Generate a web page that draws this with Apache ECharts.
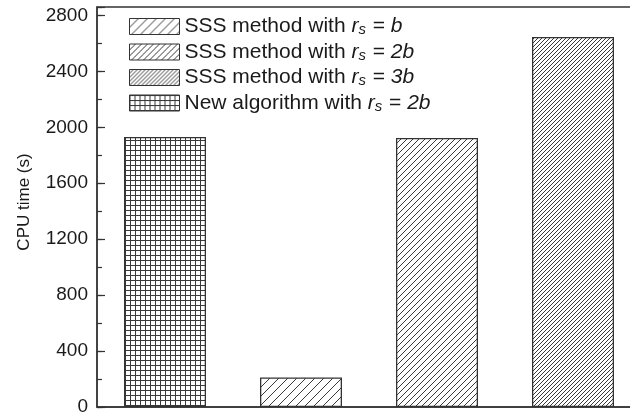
<!DOCTYPE html>
<html><head><meta charset="utf-8">
<script src="https://cdn.jsdelivr.net/npm/echarts@6/dist/echarts.min.js"></script>
<style>html,body{margin:0;padding:0;background:#fff;overflow:hidden}#c{width:660px;height:413px}</style>
</head><body><div id="c"></div>
<script>
// ---- data ----
const categories = ['New algorithm (r_s = 2b)', 'SSS (r_s = b)', 'SSS (r_s = 2b)', 'SSS (r_s = 3b)'];
const seriesNames = ['SSS method with r_s = b', 'SSS method with r_s = 2b', 'SSS method with r_s = 3b', 'New algorithm with r_s = 2b'];
const legendPrefix = ['SSS method with ', 'SSS method with ', 'SSS method with ', 'New algorithm with '];
const legendCoef = ['b', '2b', '3b', '2b'];
const seriesCategory = [1, 2, 3, 0];
const seriesValues = [211, 1924, 2645, 1931];
const yTickValues = [0, 400, 800, 1200, 1600, 2000, 2400, 2800];
const yAxisName = 'CPU time (s)';

// ---- patterns ----
function diagPattern(s) {
  const c = document.createElement('canvas');
  c.width = s; c.height = s;
  const g = c.getContext('2d');
  g.fillStyle = '#fff'; g.fillRect(0, 0, s, s);
  g.strokeStyle = '#3a3a3a'; g.lineWidth = 1;
  g.beginPath();
  g.moveTo(-1, s + 1); g.lineTo(s + 1, -1);
  g.moveTo(-1, 1); g.lineTo(1, -1);
  g.moveTo(s - 1, s + 1); g.lineTo(s + 1, s - 1);
  g.stroke();
  return { image: c, repeat: 'repeat' };
}
function gridPattern(s) {
  const c = document.createElement('canvas');
  c.width = s; c.height = s;
  const g = c.getContext('2d');
  g.fillStyle = '#fff'; g.fillRect(0, 0, s, s);
  g.fillStyle = '#3a3a3a';
  g.fillRect(0, 0, 1, s);
  g.fillRect(0, 0, s, 1);
  return { image: c, repeat: 'repeat' };
}
const fills = [diagPattern(9), diagPattern(6), diagPattern(4), gridPattern(5)];

const FONT = '"Liberation Sans", Arial, Helvetica, sans-serif';
const legendMap = {};
seriesNames.forEach((n, i) => {
  legendMap[n] = '{t|' + legendPrefix[i] + '}{i|r}{sub|s}{t| = }{i|' + legendCoef[i] + '}';
});

const series = seriesNames.map((name, i) => {
  const data = categories.map((_, k) => k === seriesCategory[i] ? seriesValues[i] : '-');
  return {
    name, type: 'bar', data, barWidth: 82, barGap: '-100%',
    itemStyle: { color: fills[i], borderColor: '#333', borderWidth: 1.3 },
    emphasis: { disabled: true },
    yAxisIndex: 0
  };
});

const chart = echarts.init(document.getElementById('c'), null, { renderer: 'canvas' });
chart.setOption({
  animation: false,
  backgroundColor: '#fff',
  grid: { left: 97, top: 7, width: 544, height: 400, outerBoundsMode: 'none', show: true, borderColor: '#333', borderWidth: 1.3, backgroundColor: 'transparent', containLabel: false },
  legend: {
    orient: 'vertical', left: 124, top: 11, itemWidth: 50, itemHeight: 16, itemGap: 4,
    icon: 'rect', data: seriesNames, selectedMode: false,
    itemStyle: { borderColor: '#333', borderWidth: 1 },
    formatter: n => legendMap[n],
    textStyle: {
      rich: {
        t: { fontSize: 21, fontFamily: FONT, color: '#1a1a1a', lineHeight: 22 },
        i: { fontSize: 21, fontFamily: FONT, fontStyle: 'italic', color: '#1a1a1a', lineHeight: 22 },
        sub: { fontSize: 15, fontFamily: FONT, fontStyle: 'italic', color: '#1a1a1a', lineHeight: 12, verticalAlign: 'bottom', padding: [0, 1, 0, 0] }
      }
    }
  },
  xAxis: {
    type: 'category', data: categories,
    axisLabel: { show: false }, axisTick: { show: false },
    axisLine: { lineStyle: { color: '#333', width: 1.5 } }
  },
  yAxis: [{
    type: 'value', min: 0, max: 2860, interval: 400, position: 'left',
    name: yAxisName, nameLocation: 'middle', nameGap: 64,
    nameTextStyle: { fontSize: 17, fontFamily: FONT, color: '#1a1a1a', padding: [0, 0, 0, 10] },
    axisLine: { show: true, lineStyle: { color: '#333', width: 1.5 } },
    axisTick: { show: true, inside: true, length: 8, lineStyle: { color: '#333', width: 1.2 } },
    axisLabel: { fontSize: 19, fontFamily: FONT, color: '#1a1a1a', margin: 9,
      formatter: v => yTickValues.indexOf(v) >= 0 ? String(v) : '' },
    splitLine: { show: false }
  }, {
    type: 'value', min: 0, max: 2860, interval: 200, position: 'left', offset: 0,
    axisLine: { show: false },
    axisTick: { show: true, inside: true, length: 5, lineStyle: { color: '#333', width: 1.2 } },
    axisLabel: { show: false },
    splitLine: { show: false }
  }],
  series
});
</script></body></html>
